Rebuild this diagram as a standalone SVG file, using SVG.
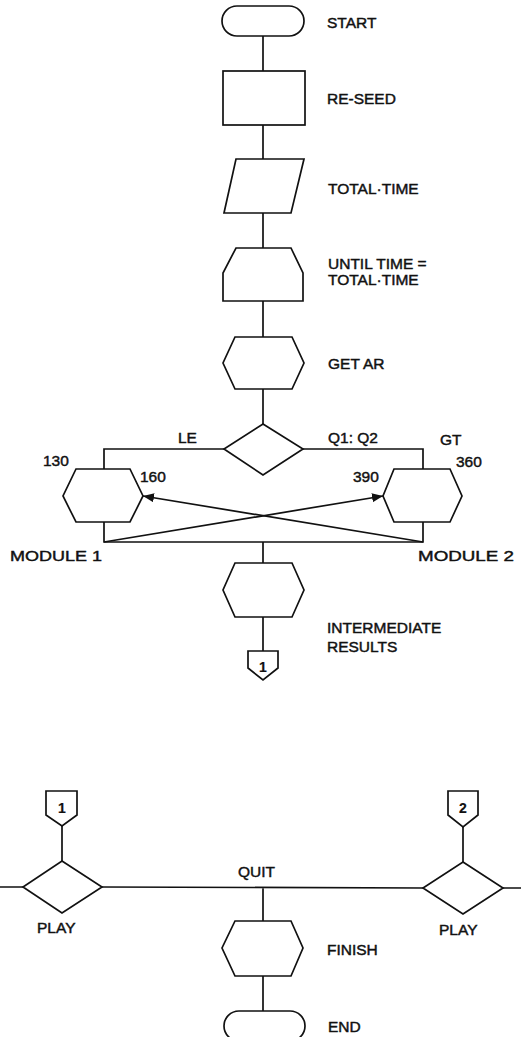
<svg xmlns="http://www.w3.org/2000/svg" width="521" height="1037" viewBox="0 0 521 1037">
<style>
.s{fill:#fff;stroke:#111;stroke-width:1.7;stroke-linejoin:miter}
.c{fill:none;stroke:#111;stroke-width:1.7}
text{font-family:"Liberation Sans",Arial,sans-serif;font-size:15.5px;fill:#111;stroke:#111;stroke-width:0.45}
.n{text-anchor:middle;font-size:14px;font-weight:bold;stroke-width:0.2}
</style>
<defs>
<marker id="ah" markerUnits="userSpaceOnUse" markerWidth="12" markerHeight="10" refX="11" refY="4.5" orient="auto">
<path d="M0,0 L11,4.5 L0,9 z" fill="#111"/>
</marker>
</defs>
<rect width="521" height="1037" fill="#fff"/>
<g id="connectors">
<path class="c" d="M263,36 V71 M263,125 V159 M263,213 V248 M263,301 V337 M263,389 V424"/>
<path class="c" d="M224,449 H104 V469 M303,449 H423 V469"/>
<path class="c" d="M104,522 V542 H423 V522 M263,542 V563 M263,617 V651"/>
<path class="c" d="M104,542 L383,496" marker-end="url(#ah)"/>
<path class="c" d="M423,542 L143,496" marker-end="url(#ah)"/>
<path class="c" d="M62,826 V861 M0,887 H23 M102,887 L423,888 M463,827 V862 M503,888 H521 M263,888 V921 M263,976 V1011"/>
</g>
<g id="start"><rect class="s" x="222" y="6" width="82" height="30" rx="15" ry="15"/><text x="327" y="28">START</text></g>
<g id="reseed"><rect class="s" x="223" y="71" width="82" height="54"/><text x="327" y="104">RE-SEED</text></g>
<g id="totaltime"><path class="s" d="M236,159 H304 L291,213 H224 Z"/><text x="328" y="194">TOTAL·TIME</text></g>
<g id="until"><path class="s" d="M236,248 H291 L303,273 V301 H223 V273 Z"/><text x="328" y="269">UNTIL TIME =</text><text x="328" y="285">TOTAL·TIME</text></g>
<g id="getar"><path class="s" d="M235,337 H292 L304,363 L292,389 H235 L223,363 Z"/><text x="328" y="369">GET AR</text></g>
<g id="decision"><path class="s" d="M263,424 L303,449 L263,475 L224,449 Z"/><text x="178" y="443">LE</text><text x="328" y="443">Q1: Q2</text><text x="440" y="445">GT</text></g>
<g id="module1"><path class="s" d="M76,469 H130 L143,496 L130,522 H76 L63,496 Z"/><text x="43" y="466">130</text><text x="140" y="482">160</text><text x="10" y="561" textLength="92" lengthAdjust="spacingAndGlyphs">MODULE 1</text></g>
<g id="module2"><path class="s" d="M394,469 H450 L462,496 L450,522 H394 L383,496 Z"/><text x="456" y="467">360</text><text x="353" y="482">390</text><text x="418" y="561" textLength="96" lengthAdjust="spacingAndGlyphs">MODULE 2</text></g>
<g id="intermediate"><path class="s" d="M235,563 H292 L304,590 L292,617 H235 L223,590 Z"/><text x="327" y="633">INTERMEDIATE</text><text x="327" y="652">RESULTS</text></g>
<g id="conn1a"><path class="s" d="M248,651 H278 V668 L263,680 L248,668 Z"/><text class="n" x="263" y="672">1</text></g>
<g id="conn1b"><path class="s" d="M46,791 H77 V815 L62,826 L46,815 Z"/><text class="n" x="62" y="813">1</text></g>
<g id="play1"><path class="s" d="M62,861 L102,887 L62,913 L23,887 Z"/><text x="37" y="933">PLAY</text></g>
<g id="conn2"><path class="s" d="M448,791 H478 V815 L463,827 L448,815 Z"/><text class="n" x="463" y="813">2</text></g>
<g id="play2"><path class="s" d="M463,862 L503,888 L463,914 L423,888 Z"/><text x="439" y="935">PLAY</text></g>
<g id="quit"><text x="238" y="877">QUIT</text></g>
<g id="finish"><path class="s" d="M235,921 H291 L303,948 L291,976 H235 L222,948 Z"/><text x="327" y="955">FINISH</text></g>
<g id="end"><rect class="s" x="224" y="1011" width="81" height="30" rx="15" ry="15"/><text x="328" y="1032">END</text></g>
</svg>
